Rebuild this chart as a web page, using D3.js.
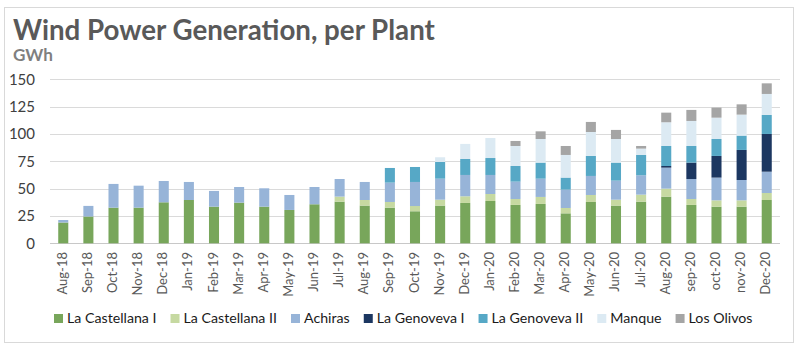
<!DOCTYPE html>
<html>
<head>
<meta charset="utf-8">
<script src="https://cdn.jsdelivr.net/npm/d3@7"></script>
<style>
  html, body { margin: 0; padding: 0; background: #ffffff; }
  svg { display: block; }
  text { font-family: Lato, "Open Sans", "Noto Sans", sans-serif; }
</style>
</head>
<body>
<svg id="chart" width="802" height="352"></svg>
<script>
const months = ["Aug-18","Sep-18","Oct-18","Nov-18","Dec-18","Jan-19","Feb-19","Mar-19","Apr-19","May-19","Jun-19","Jul-19","Aug-19","Sep-19","Oct-19","Nov-19","Dec-19","Jan-20","Feb-20","Mar-20","Apr-20","May-20","Jun-20","Jul-20","Aug-20","sep-20","oct-20","nov-20","Dec-20"];

const laCastellanaI  = [19, 24.5, 32.6, 32.6, 37.5, 39.6, 33.5, 37.2, 33.5, 30.5, 35.7, 38.1, 34.5, 32.6, 29.3, 34.5, 36.9, 38.7, 35.1, 36, 27.4, 37.8, 34.5, 38.1, 42.7, 35.1, 33.5, 33.5, 39.6];
const laCastellanaII = [0, 0, 0, 0, 0, 0, 0, 0, 0, 0, 0, 4.6, 5.1, 5.2, 4.8, 5.4, 6.1, 6.4, 5.4, 6.4, 4.9, 6.4, 5.4, 6.4, 7.3, 5.4, 5.8, 5.8, 6.4];
const achiras        = [2.3, 9.7, 21.7, 20.1, 19.5, 16.5, 14.4, 14.3, 16.8, 13.7, 15.8, 16.1, 16.5, 17.7, 22, 19.2, 19.5, 17.4, 15.9, 16.7, 16.8, 17.4, 17.4, 17.7, 19.2, 18.3, 20.8, 18.6, 19.5];
const laGenovevaI    = [0, 0, 0, 0, 0, 0, 0, 0, 0, 0, 0, 0, 0, 0, 0, 0, 0, 0, 0, 0, 0, 0, 0, 0, 1.5, 15, 19.8, 27.5, 34.5];
const laGenovevaII   = [0, 0, 0, 0, 0, 0, 0, 0, 0, 0, 0, 0, 0, 13.4, 13.7, 15.3, 14.6, 15.5, 14.3, 14.7, 11, 18.3, 16.5, 18.6, 18.3, 15.2, 15.5, 13.1, 17.4];
const manque         = [0, 0, 0, 0, 0, 0, 0, 0, 0, 0, 0, 0, 0, 0, 0, 4.3, 13.8, 18.3, 18.3, 21.6, 20.7, 21.9, 21.6, 5.8, 21.7, 22.9, 19.5, 19.2, 19.2];
const losOlivos      = [0, 0, 0, 0, 0, 0, 0, 0, 0, 0, 0, 0, 0, 0, 0, 0, 0, 0, 4.6, 7, 8.2, 9.2, 8.3, 2.4, 8.8, 10.1, 9.2, 9.4, 9.7];

const seriesNames = ["La Castellana I", "La Castellana II", "Achiras", "La Genoveva I", "La Genoveva II", "Manque", "Los Olivos"];
const seriesValues = [laCastellanaI, laCastellanaII, achiras, laGenovevaI, laGenovevaII, manque, losOlivos];
const seriesColors = ["#78a65b", "#c6d9a1", "#97b4d8", "#1c3761", "#56a8c6", "#dceaf3", "#a5a5a5"];
const yTicks = [0, 25, 50, 75, 100, 125, 150];

const svg = d3.select("#chart");

// outer frame
svg.append("rect").attr("x", 4.5).attr("y", 7.5).attr("width", 789).attr("height", 335)
  .attr("fill", "#ffffff").attr("stroke", "#d9d9d9").attr("stroke-width", 1);

// build rows for stacking
const keys = seriesNames;
const rows = months.map((m, i) => {
  const r = { month: m };
  keys.forEach((k, j) => r[k] = seriesValues[j][i]);
  return r;
});
const stacked = d3.stack().keys(keys)(rows);

const x = d3.scaleBand().domain(months).range([50.7, 779.3]).paddingInner(0.6).paddingOuter(0.3);
const y = d3.scaleLinear().domain([0, 150]).range([243.3, 79.3]);

// grid
svg.append("g").selectAll("line").data(yTicks).join("line")
  .attr("x1", 50).attr("x2", 780)
  .attr("y1", d => Math.round(y(d)) + 0.5).attr("y2", d => Math.round(y(d)) + 0.5)
  .attr("stroke", d => d === 0 ? "#c8c8c8" : "#dadada").attr("stroke-width", 1);

// y labels
svg.append("g").selectAll("text").data(yTicks).join("text")
  .attr("x", 35).attr("y", d => y(d)).attr("dy", "0.36em")
  .attr("text-anchor", "end").attr("font-size", 15).attr("fill", "#404040")
  .text(d => d);

// bars
svg.append("g").selectAll("g").data(stacked).join("g")
  .attr("fill", (d, i) => seriesColors[i])
  .selectAll("rect").data(d => d).join("rect")
  .attr("x", d => x(d.data.month))
  .attr("width", x.bandwidth())
  .attr("y", d => y(d[1]))
  .attr("height", d => Math.max(0, y(d[0]) - y(d[1])));

// x labels
svg.append("g").selectAll("text").data(months).join("text")
  .attr("transform", d => `translate(${x(d) + x.bandwidth() / 2 + 3.5},252) rotate(-90)`)
  .attr("text-anchor", "end").attr("font-size", 13).attr("fill", "#595959")
  .text(d => d);

// title
const title = svg.append("text").attr("x", 13).attr("y", 40)
  .attr("font-weight", 700).attr("font-size", 24).attr("fill", "#595959")
  .text("Wind Power Generation, per Plant");
{
  const w = title.node().getComputedTextLength();
  title.attr("font-size", 24 * 422 / w);
}
const unit = svg.append("text").attr("x", 13).attr("y", 61)
  .attr("font-weight", 700).attr("font-size", 17).attr("fill", "#7f7f7f")
  .text("GWh");
{
  const w = unit.node().getComputedTextLength();
  unit.attr("font-size", 17 * 40 / w);
}

// legend
const legend = svg.append("g");
const legendItems = legend.selectAll("g").data(seriesNames).join("g");
legendItems.append("rect").attr("width", 9).attr("height", 9)
  .attr("fill", (d, i) => seriesColors[i]);
const ltexts = legendItems.append("text").attr("font-size", 15).attr("fill", "#1a1a1a")
  .text(d => d);
{
  const markerW = 9, gapMT = 4, gapItems = 14, targetW = 699;
  let widths = ltexts.nodes().map(n => n.getComputedTextLength());
  const sumText = d3.sum(widths);
  const fixed = seriesNames.length * (markerW + gapMT) + (seriesNames.length - 1) * gapItems;
  const fs = 15 * (targetW - fixed) / sumText;
  ltexts.attr("font-size", fs);
  widths = ltexts.nodes().map(n => n.getComputedTextLength());
  let cx = 54;
  legendItems.each(function (d, i) {
    const g = d3.select(this);
    g.select("rect").attr("x", cx).attr("y", 314);
    g.select("text").attr("x", cx + markerW + gapMT).attr("y", 323);
    cx += markerW + gapMT + widths[i] + gapItems;
  });
}
</script>
</body>
</html>
